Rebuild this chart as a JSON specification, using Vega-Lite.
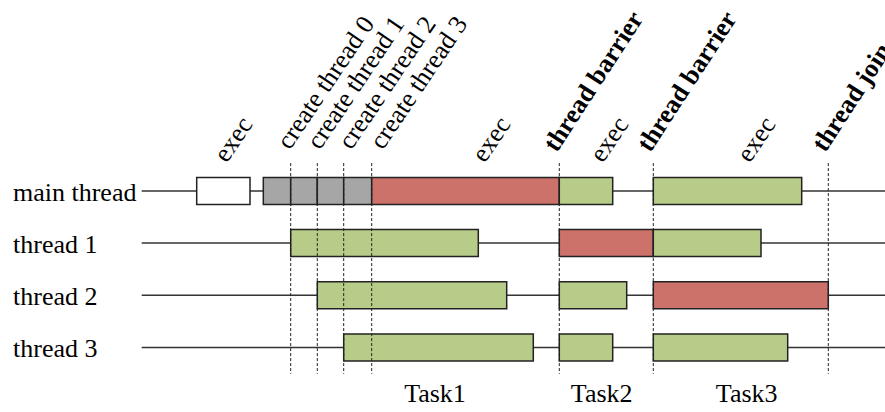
{
  "$schema": "https://vega.github.io/schema/vega-lite/v6.json",
  "width": 885,
  "height": 412,
  "autosize": "none",
  "padding": 0,
  "background": "white",
  "config": {"view": {"stroke": null}},
  "datasets": {
    "threads": [
      {"thread": "main thread", "row": 0},
      {"thread": "thread 1", "row": 1},
      {"thread": "thread 2", "row": 2},
      {"thread": "thread 3", "row": 3}
    ],
    "segments": [
      {"row": 0, "start": 5.5, "end": 10.83, "type": "idle"},
      {"row": 0, "start": 12.16, "end": 14.9, "type": "create"},
      {"row": 0, "start": 14.9, "end": 17.56, "type": "create"},
      {"row": 0, "start": 17.56, "end": 20.2, "type": "create"},
      {"row": 0, "start": 20.2, "end": 23.0, "type": "create"},
      {"row": 0, "start": 23.0, "end": 41.76, "type": "critical"},
      {"row": 0, "start": 41.76, "end": 47.1, "type": "exec"},
      {"row": 0, "start": 51.16, "end": 66.0, "type": "exec"},
      {"row": 1, "start": 14.9, "end": 33.66, "type": "exec"},
      {"row": 1, "start": 41.76, "end": 51.16, "type": "critical"},
      {"row": 1, "start": 51.16, "end": 61.93, "type": "exec"},
      {"row": 2, "start": 17.56, "end": 36.5, "type": "exec"},
      {"row": 2, "start": 41.76, "end": 48.5, "type": "exec"},
      {"row": 2, "start": 51.16, "end": 68.66, "type": "critical"},
      {"row": 3, "start": 20.2, "end": 39.16, "type": "exec"},
      {"row": 3, "start": 41.76, "end": 47.1, "type": "exec"},
      {"row": 3, "start": 51.16, "end": 64.6, "type": "exec"}
    ],
    "events": [
      {"t": 14.9, "label": "create thread 0", "lt": 14.8, "kind": "create"},
      {"t": 17.56, "label": "create thread 1", "lt": 17.8, "kind": "create"},
      {"t": 20.2, "label": "create thread 2", "lt": 20.95, "kind": "create"},
      {"t": 23.0, "label": "create thread 3", "lt": 24.1, "kind": "create"},
      {"t": 41.76, "label": "thread barrier", "lt": 41.5, "kind": "sync"},
      {"t": 51.16, "label": "thread barrier", "lt": 50.85, "kind": "sync"},
      {"t": 68.66, "label": "thread join", "lt": 68.35, "kind": "sync"}
    ],
    "execs": [
      {"lt": 8.5, "label": "exec"},
      {"lt": 34.3, "label": "exec"},
      {"lt": 46.1, "label": "exec"},
      {"lt": 60.8, "label": "exec"}
    ],
    "tasks": [
      {"task": "Task1", "center": 29.33},
      {"task": "Task2", "center": 46.0},
      {"task": "Task3", "center": 60.5}
    ]
  },
  "resolve": {"scale": {"x": "shared", "y": "shared"}},
  "layer": [
    {
      "data": {"name": "threads"},
      "mark": {"type": "rule", "stroke": "#333333", "strokeWidth": 1.5},
      "encoding": {
        "y": {"field": "row", "type": "quantitative", "scale": {"domain": [-3.561, 4.14], "reverse": true, "nice": false, "zero": false}, "axis": null},
        "x": {"datum": 0, "type": "quantitative", "scale": {"domain": [-14.17, 74.33], "nice": false, "zero": false}, "axis": null},
        "x2": {"datum": 74.33}
      }
    },
    {
      "data": {"name": "threads"},
      "mark": {"type": "text", "font": "Liberation Serif", "fontSize": 26, "align": "left", "baseline": "middle", "dy": 2, "color": "black"},
      "encoding": {
        "y": {"field": "row", "type": "quantitative"},
        "x": {"datum": -12.87, "type": "quantitative"},
        "text": {"field": "thread"}
      }
    },
    {
      "data": {"name": "segments"},
      "mark": {"type": "bar", "size": 27, "stroke": "#222222", "strokeWidth": 1.5},
      "encoding": {
        "y": {"field": "row", "type": "quantitative"},
        "x": {"field": "start", "type": "quantitative"},
        "x2": {"field": "end"},
        "fill": {"field": "type", "type": "nominal", "legend": null, "scale": {"domain": ["idle", "create", "critical", "exec"], "range": ["#ffffff", "#a6a6a6", "#cd716b", "#b7cc88"]}}
      }
    },
    {
      "data": {"name": "events"},
      "mark": {"type": "rule", "stroke": "#222222", "strokeWidth": 1, "strokeDash": [3, 2]},
      "encoding": {
        "x": {"field": "t", "type": "quantitative"},
        "y": {"datum": -0.533, "type": "quantitative"},
        "y2": {"datum": 3.505}
      }
    },
    {
      "data": {"name": "events"},
      "transform": [{"filter": "datum.kind === 'create'"}],
      "mark": {"type": "text", "font": "Liberation Serif", "fontSize": 26, "align": "left", "baseline": "alphabetic", "angle": -56, "color": "black"},
      "encoding": {
        "x": {"field": "lt", "type": "quantitative"},
        "y": {"datum": -0.77, "type": "quantitative"},
        "text": {"field": "label"}
      }
    },
    {
      "data": {"name": "events"},
      "transform": [{"filter": "datum.kind === 'sync'"}],
      "mark": {"type": "text", "font": "Liberation Serif", "fontSize": 26, "fontWeight": "bold", "align": "left", "baseline": "alphabetic", "angle": -57, "color": "black"},
      "encoding": {
        "x": {"field": "lt", "type": "quantitative"},
        "y": {"datum": -0.72, "type": "quantitative"},
        "text": {"field": "label"}
      }
    },
    {
      "data": {"name": "execs"},
      "mark": {"type": "text", "font": "Liberation Serif", "fontSize": 26, "align": "left", "baseline": "alphabetic", "angle": -56, "color": "black"},
      "encoding": {
        "x": {"field": "lt", "type": "quantitative"},
        "y": {"datum": -0.52, "type": "quantitative"},
        "text": {"field": "label"}
      }
    },
    {
      "data": {"name": "tasks"},
      "mark": {"type": "text", "font": "Liberation Serif", "fontSize": 26, "align": "center", "baseline": "alphabetic", "color": "black"},
      "encoding": {
        "x": {"field": "center", "type": "quantitative"},
        "y": {"datum": 4.04, "type": "quantitative"},
        "text": {"field": "task"}
      }
    }
  ]
}
